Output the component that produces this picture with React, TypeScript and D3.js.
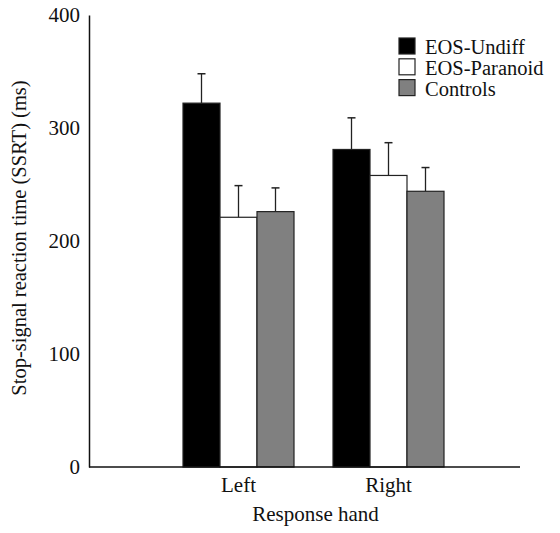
import React, { useRef, useEffect } from "react";
import { select, scaleLinear, scaleBand, axisLeft, axisBottom } from "d3";

// data
const hands = ["Left", "Right"];
const groups = ["EOS-Undiff", "EOS-Paranoid", "Controls"];
const fills = ["#000000", "#ffffff", "#808080"];
const undiff = [322, 281];
const undiffErr = [26, 28];
const paranoid = [221, 258];
const paranoidErr = [28, 29];
const controls = [226, 244];
const controlsErr = [21, 21];
const yTicks = [0, 100, 200, 300, 400];

const means = [undiff, paranoid, controls];
const errs = [undiffErr, paranoidErr, controlsErr];

const W = 560;
const H = 533;
const font = "'Liberation Serif', 'Times New Roman', serif";

const App = () => {
  const svgRef = useRef(null);

  useEffect(() => {
    const svg = select(svgRef.current);
    svg.selectAll("*").remove();

    const axisLeftX = 89;
    const axisRightX = 520;
    const y = scaleLinear().domain([0, 400]).range([467, 15]);

    const x0 = scaleBand().domain(hands).range([183, 444]).paddingInner(0.26).paddingOuter(0);
    const x1 = scaleBand().domain(groups).range([0, x0.bandwidth()]).padding(0);

    // flatten rows for drawing
    const rows = [];
    hands.forEach((h, hi) => {
      groups.forEach((g, gi) => {
        rows.push({ hand: h, group: g, gi, value: means[gi][hi], err: errs[gi][hi] });
      });
    });

    // error bars (drawn first so bar tops sit on the stem)
    const eb = svg.append("g");
    rows.forEach((d) => {
      const cx = x0(d.hand) + x1(d.group) + x1.bandwidth() / 2;
      eb.append("line")
        .attr("x1", cx).attr("x2", cx)
        .attr("y1", y(d.value)).attr("y2", y(d.value + d.err))
        .attr("stroke", "#222").attr("stroke-width", 1.3);
      eb.append("line")
        .attr("x1", cx - 4).attr("x2", cx + 4)
        .attr("y1", y(d.value + d.err)).attr("y2", y(d.value + d.err))
        .attr("stroke", "#222").attr("stroke-width", 1.5);
    });

    svg.append("g")
      .selectAll("rect")
      .data(rows)
      .enter()
      .append("rect")
      .attr("x", (d) => x0(d.hand) + x1(d.group))
      .attr("y", (d) => y(d.value))
      .attr("width", x1.bandwidth())
      .attr("height", (d) => y(0) - y(d.value))
      .attr("fill", (d) => fills[d.gi])
      .attr("stroke", "#222")
      .attr("stroke-width", 1.2);

    // y axis
    const yAxis = svg.append("g")
      .attr("transform", `translate(${axisLeftX},0)`)
      .call(axisLeft(y).tickValues(yTicks).tickSize(0).tickSizeOuter(0).tickPadding(9));
    yAxis.select(".domain").attr("stroke", "#111").attr("stroke-width", 1.5);
    yAxis.selectAll("text")
      .style("font-family", font).style("font-size", "21px").attr("fill", "#111");

    // x axis
    svg.append("line")
      .attr("x1", axisLeftX).attr("x2", axisRightX)
      .attr("y1", y(0)).attr("y2", y(0))
      .attr("stroke", "#111").attr("stroke-width", 1.5);
    const xAxis = svg.append("g")
      .attr("transform", `translate(0,${y(0)})`)
      .call(axisBottom(x0).tickSize(0).tickPadding(10));
    xAxis.select(".domain").remove();
    xAxis.selectAll("text")
      .style("font-family", font).style("font-size", "21px").attr("fill", "#111");

    // axis titles
    svg.append("text")
      .attr("x", (axisLeftX + axisRightX) / 2 + 11)
      .attr("y", 521)
      .attr("text-anchor", "middle")
      .style("font-family", font).style("font-size", "21px").attr("fill", "#111")
      .text("Response hand");

    svg.append("text")
      .attr("transform", `translate(26,238) rotate(-90)`)
      .attr("text-anchor", "middle")
      .style("font-family", font).style("font-size", "20.5px").attr("fill", "#111")
      .text("Stop-signal reaction time (SSRT) (ms)");

    // legend
    const legend = svg.append("g").attr("transform", "translate(399,38)");
    groups.forEach((g, i) => {
      const row = legend.append("g").attr("transform", `translate(0,${i * 20.8})`);
      row.append("rect")
        .attr("width", 16).attr("height", 16)
        .attr("fill", fills[i]).attr("stroke", "#222").attr("stroke-width", 1.2);
      row.append("text")
        .attr("x", 26).attr("y", 16)
        .style("font-family", font).style("font-size", "20.5px").attr("fill", "#111")
        .text(g);
    });
  }, []);

  return (
    <svg
      ref={svgRef}
      width={W}
      height={H}
      style={{ position: "absolute", left: 0, top: 0, background: "#fff" }}
    />
  );
};

export default App;
